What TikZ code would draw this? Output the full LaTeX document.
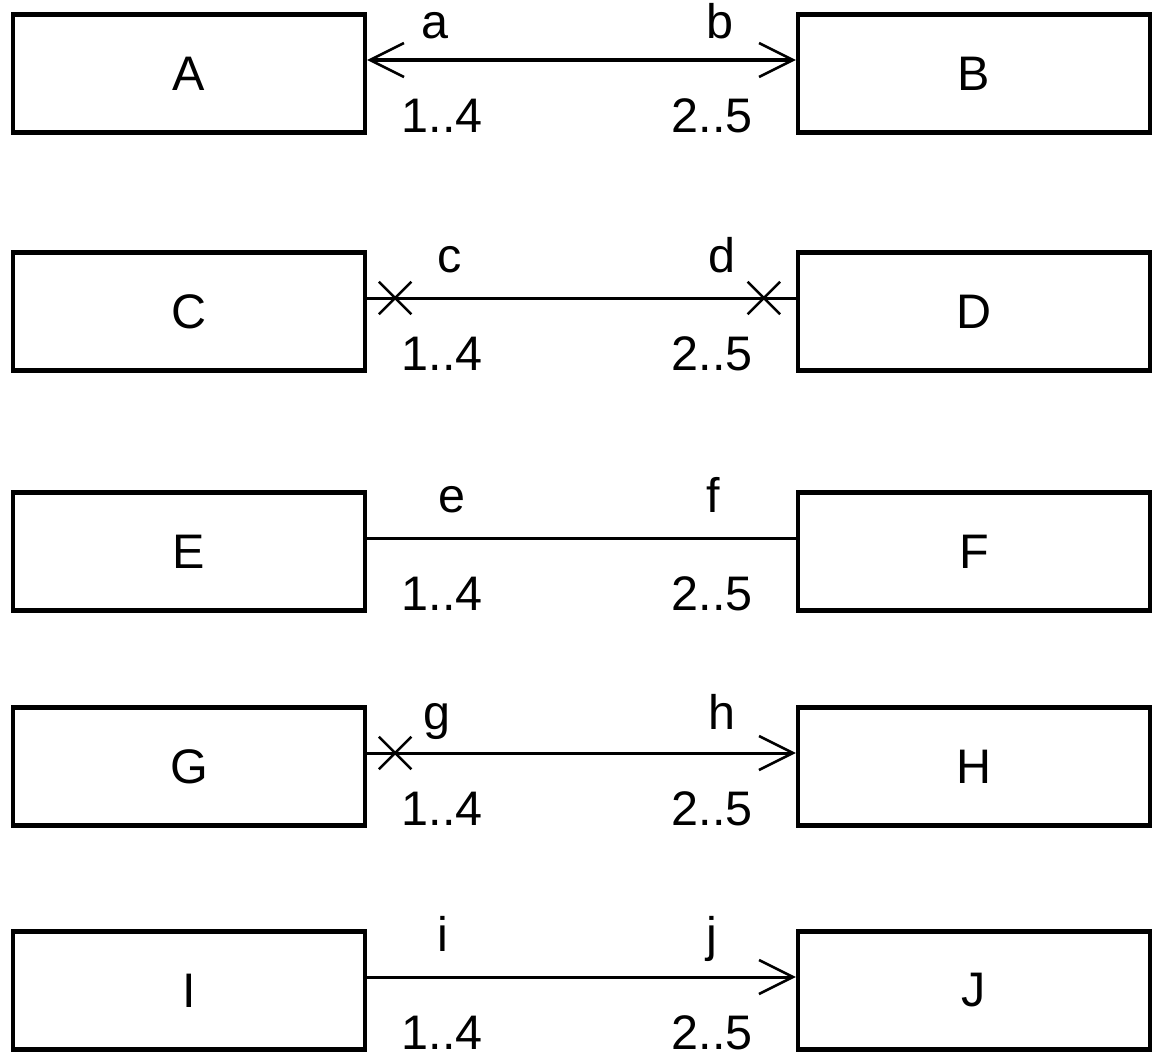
\documentclass[tikz,border=0pt]{standalone}
\usepackage{fontspec}
\setmainfont{Liberation Sans}
\usetikzlibrary{arrows.meta,shapes.misc}
\tikzset{
  ebox/.style={draw, line width=0.09cm, minimum width=7.04cm, minimum height=2.36cm, inner sep=0pt},
  lbl/.style={inner sep=0pt, anchor=base},
  conn/.style={line width=0.06cm},
  boldconn/.style={line width=0.09cm},
  barb/.tip={Straight Barb[length=0.68cm, width=0.68cm, line width=0.05cm]},
  xmark/.style={cross out, draw, line width=0.05cm, minimum size=0.6cm, inner sep=0pt},
}
\begin{document}
\begin{tikzpicture}[x=0.02cm, y=-0.02cm, font=\fontsize{27.6}{33}\selectfont]
\useasboundingbox (0,0) rectangle (1164,1062);
% boxes
\node[ebox] (A) at (189,73.5) {A};
\node[ebox] (B) at (974,73.5) {B};
\node[ebox] (C) at (189,311.5) {C};
\node[ebox] (D) at (974,311.5) {D};
\node[ebox] (E) at (189,551.5) {E};
\node[ebox] (F) at (974,551.5) {F};
\node[ebox] (G) at (189,766.5) {G};
\node[ebox] (H) at (974,766.5) {H};
\node[ebox] (I) at (189,990.5) {I};
\node[ebox] (J) at (974,990.5) {J};
% connectors
\draw[boldconn, barb-barb] ([yshift=0.27cm]A.east) -- ([yshift=0.27cm]B.west);
\draw[conn] ([yshift=0.27cm]C.east) -- ([yshift=0.27cm]D.west);
\node[xmark] (cx1) at ([xshift=0.56cm, yshift=0.27cm]C.east) {};
\node[xmark] (cx2) at ([xshift=-0.64cm, yshift=0.27cm]D.west) {};
\draw[conn] ([yshift=0.27cm]E.east) -- ([yshift=0.27cm]F.west);
\draw[conn, -barb] ([yshift=0.27cm]G.east) -- ([yshift=0.27cm]H.west);
\node[xmark] (gx1) at ([xshift=0.56cm, yshift=0.27cm]G.east) {};
\draw[conn, -barb] ([yshift=0.27cm]I.east) -- ([yshift=0.27cm]J.west);
% labels
\node[lbl] (la) at (435,38) {a};
\node[lbl] (lb) at (720,38) {b};
\node[lbl] (l14a) at (442,132) {1..4};
\node[lbl] (l25a) at (712,132) {2..5};
\node[lbl] (lc) at (450,272) {c};
\node[lbl] (ld) at (722,272) {d};
\node[lbl] (l14c) at (442,370) {1..4};
\node[lbl] (l25c) at (712,370) {2..5};
\node[lbl] (le) at (452,512) {e};
\node[lbl] (lf) at (713,512) {f};
\node[lbl] (l14e) at (442,610) {1..4};
\node[lbl] (l25e) at (712,610) {2..5};
\node[lbl] (lg) at (437,729) {g};
\node[lbl] (lh) at (722,729) {h};
\node[lbl] (l14g) at (442,825) {1..4};
\node[lbl] (l25g) at (712,825) {2..5};
\node[lbl] (li) at (443,951) {i};
\node[lbl] (lj) at (712,951) {j};
\node[lbl] (l14i) at (442,1049) {1..4};
\node[lbl] (l25i) at (712,1049) {2..5};
\end{tikzpicture}
\end{document}
